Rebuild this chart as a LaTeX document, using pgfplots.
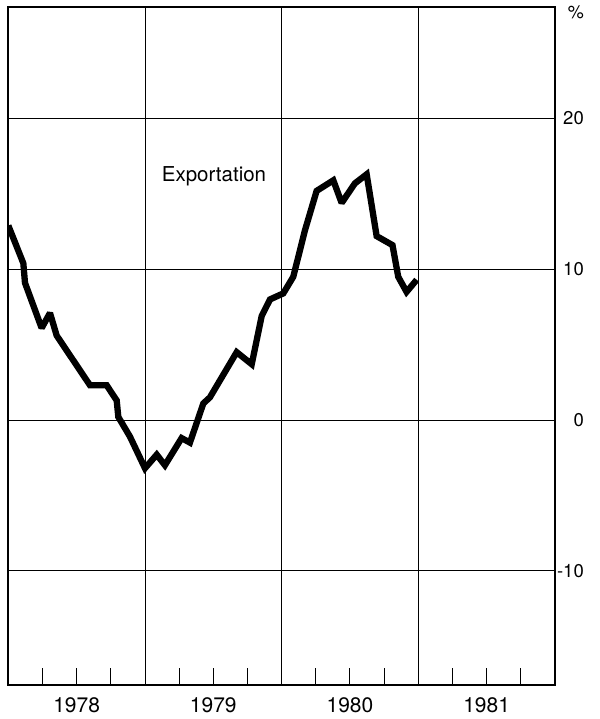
\documentclass[border=0pt]{standalone}
\usepackage{pgfplots}
\pgfplotsset{compat=1.18}
\usepackage{fontspec}
\setmainfont{TeX Gyre Heros}
\begin{document}
\begin{tikzpicture}
\useasboundingbox (0pt,0pt) rectangle (599pt,719pt);
\begin{axis}[
  at={(8.3pt,34pt)}, anchor=south west,
  scale only axis, width=546.7pt, height=678pt,
  xmin=1978, xmax=1982, ymin=-17.58, ymax=27.4,
  axis line style={line width=1.8pt, black},
  xtick={1979,1980,1981}, xticklabels={},
  xmajorgrids, ymajorgrids,
  grid style={line width=0.9pt, black},
  major tick length=0pt,
  xtick pos=bottom,
  extra x ticks={1978.25,1978.5,1978.75,1979.25,1979.5,1979.75,1980.25,1980.5,1980.75,1981.25,1981.5,1981.75},
  extra x tick labels={,1978,,,1979,,,1980,,,1981,},
  extra x tick style={grid=none, tick align=inside, major tick length=17pt,
    major tick style={line width=1pt, black},
    xticklabel style={font=\fontsize{21}{25}\selectfont, inner sep=0pt, yshift=-12pt}},
  ytick={-10,0,10,20}, yticklabels={-10,0,10,20},
  yticklabel pos=right, ytick pos=right,
  yticklabel style={font=\fontsize{18.5}{22}\selectfont, anchor=east, inner sep=0pt, xshift=29pt},
  clip=true,
]
\addplot[black, line width=6.3pt, miter limit=2] coordinates {
(1978.000,12.9)
(1978.110,10.4)
(1978.122,9.1)
(1978.244,6.1)
(1978.305,7.1)
(1978.354,5.6)
(1978.598,2.3)
(1978.720,2.3)
(1978.793,1.3)
(1978.805,0.2)
(1978.890,-1.1)
(1979.000,-3.2)
(1979.086,-2.3)
(1979.146,-3.0)
(1979.268,-1.2)
(1979.329,-1.5)
(1979.427,1.1)
(1979.475,1.5)
(1979.671,4.5)
(1979.781,3.7)
(1979.854,6.9)
(1979.915,8.0)
(1980.012,8.4)
(1980.085,9.5)
(1980.171,12.6)
(1980.256,15.2)
(1980.378,15.9)
(1980.439,14.4)
(1980.536,15.7)
(1980.622,16.3)
(1980.695,12.2)
(1980.811,11.6)
(1980.853,9.5)
(1980.914,8.5)
(1980.988,9.3)
};
\node[anchor=base west, inner sep=0pt, font=\fontsize{20.5}{24}\selectfont] at (axis cs:1979.122,15.83) {Exportation};
\end{axis}
\node[anchor=east, inner sep=0pt, font=\fontsize{18}{22}\selectfont] at (584pt,707pt) {\%};
\end{tikzpicture}
\end{document}
